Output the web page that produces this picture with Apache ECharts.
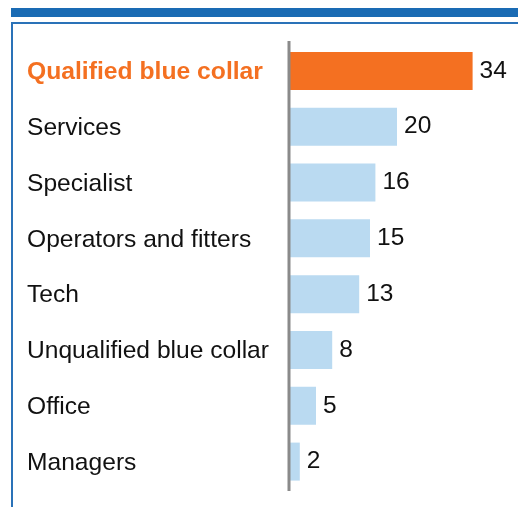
<!DOCTYPE html>
<html>
<head>
<meta charset="utf-8">
<script src="https://cdn.jsdelivr.net/npm/echarts@6/dist/echarts.min.js"></script>
<style>
  html, body { margin: 0; padding: 0; background: #ffffff; }
  #chart { width: 518px; height: 507px; }
</style>
</head>
<body>
<div id="chart"></div>
<script>
// Occupational groups, listed top to bottom
const categories = [
  'Qualified blue collar',
  'Services',
  'Specialist',
  'Operators and fitters',
  'Tech',
  'Unqualified blue collar',
  'Office',
  'Managers'
];
const values = [34, 20, 16, 15, 13, 8, 5, 2];
const highlightIndex = 0;

const ORANGE = '#f47021';
const LIGHT_BLUE = '#badaf1';
const FRAME_BLUE = '#1a6bb4';

const chart = echarts.init(document.getElementById('chart'), null, { renderer: 'canvas' });

chart.setOption({
  animation: false,
  backgroundColor: '#ffffff',
  textStyle: { fontFamily: 'Liberation Sans, Arial, sans-serif' },
  graphic: [
    { type: 'rect', shape: { x: 11, y: 8, width: 510, height: 9 }, style: { fill: FRAME_BLUE } },
    { type: 'rect', shape: { x: 12, y: 23, width: 520, height: 500 },
      style: { fill: 'none', stroke: '#2a72b8', lineWidth: 2 } },
    // axis rule, slightly taller than the category band
    { type: 'line', z: 10, shape: { x1: 289, y1: 41, x2: 289, y2: 491 },
      style: { stroke: '#8a8a8a', lineWidth: 3 } }
  ],
  grid: { left: 289, right: 13, top: 43, bottom: 17.5, containLabel: false },
  xAxis: {
    type: 'value', min: 0, max: 40, show: false
  },
  yAxis: {
    type: 'category',
    data: categories,
    inverse: true,
    axisLine: { show: false },
    axisTick: { show: false },
    axisLabel: {
      align: 'left',
      margin: 262,
      fontSize: 24.6,
      color: '#111111',
      padding: [3, 0, 0, 0],
      formatter: (v, i) => i === highlightIndex ? '{hi|' + v + '}' : v,
      rich: {
        hi: { fontSize: 24.7, fontWeight: 'bold', color: ORANGE }
      }
    }
  },
  series: [{
    type: 'bar',
    data: values.map((v, i) => ({
      value: v,
      itemStyle: { color: i === highlightIndex ? ORANGE : LIGHT_BLUE }
    })),
    barWidth: 38,
    label: {
      show: true,
      position: 'right',
      distance: 7,
      fontSize: 24.5,
      padding: [3, 0, 0, 0],
      color: '#111111'
    },
    z: 1
  }]
});
</script>
</body>
</html>
